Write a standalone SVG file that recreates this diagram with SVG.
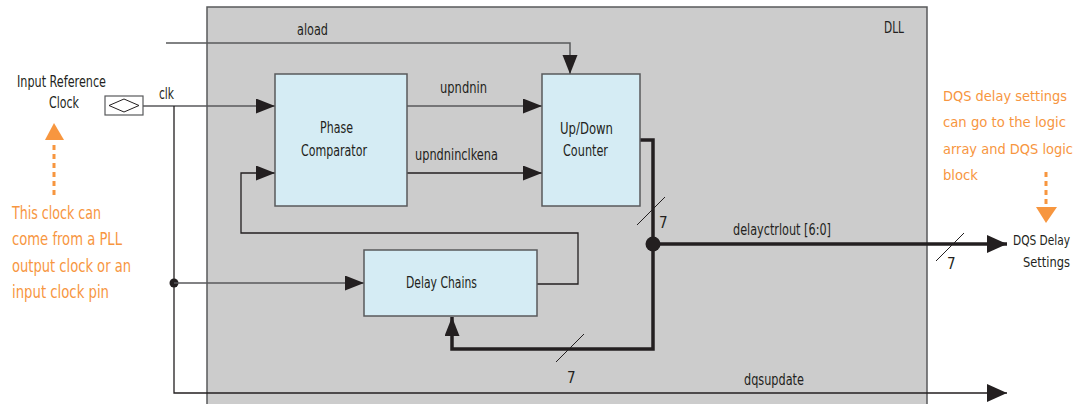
<svg xmlns="http://www.w3.org/2000/svg" width="1077" height="404" viewBox="0 0 1077 404">
<style>
.t{font-family:"Liberation Sans Narrow","DejaVu Sans Condensed","Liberation Sans",sans-serif;font-size:15px;fill:#231f20}
.o{font-family:"Liberation Sans Narrow","DejaVu Sans Condensed","Liberation Sans",sans-serif;font-size:18px;fill:#f7963f}
.or{font-size:14.8px}
.blk{fill:#d5ecf4;stroke:#58595b;stroke-width:1.5}
.thin{fill:none;stroke:#58595b;stroke-width:1.5}
.thin2{fill:none;stroke:#231f20;stroke-width:1.3}
.thick{fill:none;stroke:#231f20;stroke-width:3.5}
.sl{stroke:#231f20;stroke-width:1}
.dash{stroke:#f7963f;stroke-width:3;stroke-dasharray:5 4}
</style>
<defs>
<marker id="ah" markerUnits="userSpaceOnUse" markerWidth="20" markerHeight="16" refX="19" refY="7.5" orient="auto">
<path d="M0,0 L19,7.5 L0,15 Z" fill="#231f20"/>
</marker>
<marker id="ahb" markerUnits="userSpaceOnUse" markerWidth="21" markerHeight="19" refX="20" refY="9" orient="auto">
<path d="M0,0 L20,9 L0,18 Z" fill="#231f20"/>
</marker>
</defs>

<rect id="dll" x="207" y="7" width="720" height="410" fill="#cccccc" stroke="#58595b" stroke-width="1.5"/>
<text class="t" x="884" y="33" textLength="20" lengthAdjust="spacingAndGlyphs">DLL</text>

<g id="connectors">
<polyline class="thin" points="166,43 570,43 570,74" marker-end="url(#ah)"/>
<line class="thin" x1="143" y1="106" x2="275" y2="106" marker-end="url(#ah)"/>
<polyline class="thin2" points="174,106 174,393 1007,393" marker-end="url(#ahb)"/>
<circle cx="174" cy="283" r="4.5" fill="#231f20"/>
<line class="thin" x1="174" y1="283" x2="364" y2="283" marker-end="url(#ah)"/>
<polyline class="thin2" points="537,284 578,284 578,233 241,233 241,173 275,173" marker-end="url(#ah)"/>
<line class="thin" x1="407" y1="106" x2="542" y2="106" marker-end="url(#ah)"/>
<line class="thin2" x1="407" y1="173" x2="542" y2="173" marker-end="url(#ah)"/>
<polyline class="thick" points="640,140 653,140 653,349 452,349 452,317" marker-end="url(#ah)"/>
<line class="thick" x1="653" y1="244" x2="1007" y2="244" marker-end="url(#ahb)"/>
<circle cx="653" cy="244" r="7.5" fill="#231f20"/>
<line class="sl" x1="637" y1="225" x2="665" y2="197"/>
<line class="sl" x1="556" y1="362" x2="584" y2="334"/>
<line class="sl" x1="936" y1="261" x2="964" y2="233"/>
<text class="t" x="659" y="228">7</text>
<text class="t" x="567" y="383">7</text>
<text class="t" x="947" y="269">7</text>
<text class="t" x="297" y="35" textLength="31" lengthAdjust="spacingAndGlyphs">aload</text>
<text class="t" x="440" y="93" textLength="47" lengthAdjust="spacingAndGlyphs">upndnin</text>
<text class="t" x="415" y="160" textLength="83" lengthAdjust="spacingAndGlyphs">upndninclkena</text>
<text class="t" x="159" y="99" textLength="15" lengthAdjust="spacingAndGlyphs">clk</text>
<text class="t" x="733" y="235" textLength="98" lengthAdjust="spacingAndGlyphs">delayctrlout [6:0]</text>
<text class="t" x="744" y="385" textLength="60" lengthAdjust="spacingAndGlyphs">dqsupdate</text>
</g>

<g id="input-ref">
<rect x="105" y="96" width="38" height="19" fill="#fff" stroke="#58595b" stroke-width="1.2"/>
<path d="M109,105.5 L124,99 L139,105.5 L124,112 Z" fill="none" stroke="#231f20" stroke-width="1"/>
<text class="t" x="17" y="87" textLength="89" lengthAdjust="spacingAndGlyphs">Input Reference</text>
<text class="t" x="49" y="108" textLength="30" lengthAdjust="spacingAndGlyphs">Clock</text>
</g>

<g id="phase-comparator">
<rect class="blk" x="275" y="74" width="132" height="132"/>
<text class="t" x="320" y="133" textLength="33" lengthAdjust="spacingAndGlyphs">Phase</text>
<text class="t" x="301" y="156" textLength="66" lengthAdjust="spacingAndGlyphs">Comparator</text>
</g>

<g id="updown-counter">
<rect class="blk" x="542" y="74" width="98" height="132"/>
<text class="t" x="560" y="134" textLength="53" lengthAdjust="spacingAndGlyphs">Up/Down</text>
<text class="t" x="563" y="156" textLength="45" lengthAdjust="spacingAndGlyphs">Counter</text>
</g>

<g id="delay-chains">
<rect class="blk" x="364" y="250" width="173" height="66"/>
<text class="t" x="406" y="288" textLength="71" lengthAdjust="spacingAndGlyphs">Delay Chains</text>
</g>

<g id="dqs-settings">
<text class="t" x="1013" y="245" style="font-size:13.5px" textLength="57" lengthAdjust="spacingAndGlyphs">DQS Delay</text>
<text class="t" x="1023" y="267" style="font-size:13.5px" textLength="47" lengthAdjust="spacingAndGlyphs">Settings</text>
</g>

<g id="note-left">
<line class="dash" x1="54" y1="195" x2="54" y2="141"/>
<path d="M45,140 L54,123 L64,140 Z" fill="#f7963f"/>
<text class="o" x="12" y="219" textLength="89" lengthAdjust="spacingAndGlyphs">This clock can</text>
<text class="o" x="12" y="245" textLength="110" lengthAdjust="spacingAndGlyphs">come from a PLL</text>
<text class="o" x="12" y="272" textLength="119" lengthAdjust="spacingAndGlyphs">output clock or an</text>
<text class="o" x="12" y="298" textLength="97" lengthAdjust="spacingAndGlyphs">input clock pin</text>
</g>

<g id="note-right">
<line class="dash" x1="1046" y1="172" x2="1046" y2="206"/>
<path d="M1036,207 L1057,207 L1046,223 Z" fill="#f7963f"/>
<text class="o or" x="943" y="101" textLength="124" lengthAdjust="spacingAndGlyphs">DQS delay settings</text>
<text class="o or" x="943" y="127" textLength="123" lengthAdjust="spacingAndGlyphs">can go to the logic</text>
<text class="o or" x="943" y="154" textLength="130" lengthAdjust="spacingAndGlyphs">array and DQS logic</text>
<text class="o or" x="943" y="180" textLength="35" lengthAdjust="spacingAndGlyphs">block</text>
</g>
</svg>
